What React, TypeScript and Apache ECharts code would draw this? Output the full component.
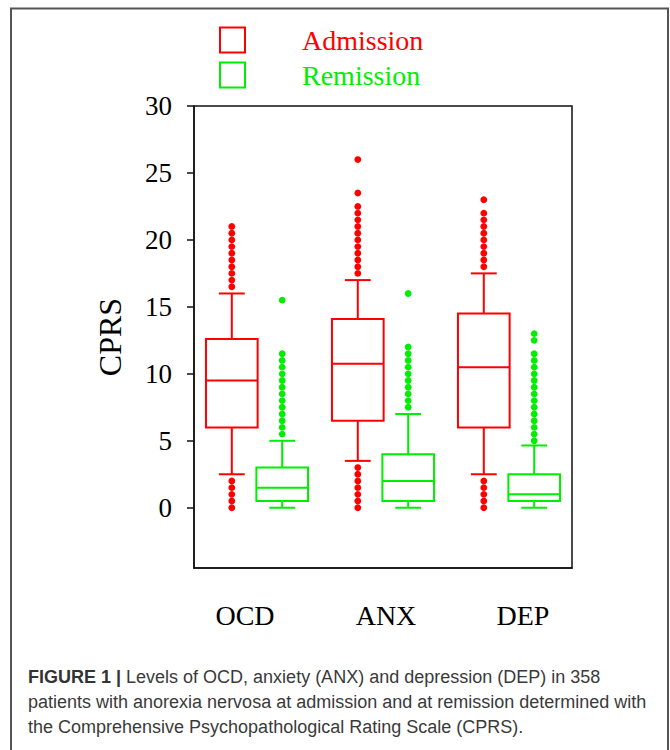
import React, { useEffect, useRef } from "react";
import * as echarts from "echarts";

const categories = ["OCD", "ANX", "DEP"];
const seriesNames = ["Admission", "Remission"];
const seriesColors = ["#ff0000", "#00ee00"];

// [min whisker, Q1, median, Q3, max whisker]
const admissionBoxes = [
  [2.5, 6, 9.5, 12.6, 16],
  [3.5, 6.5, 10.75, 14.1, 17],
  [2.5, 6, 10.5, 14.5, 17.5],
];
const remissionBoxes = [
  [0, 0.5, 1.5, 3, 5],
  [0, 0.5, 2, 4, 7],
  [0, 0.5, 1, 2.5, 4.65],
];

const admissionOutliers = [
  [0, 0.5, 1, 1.5, 2, 16.5, 17, 17.5, 18, 18.5, 19, 19.5, 20, 20.5, 21],
  [0, 0.5, 1, 1.5, 2, 2.5, 3, 17.5, 18, 18.5, 19, 19.5, 20, 20.5, 21, 21.5, 22, 22.5, 23.5, 26],
  [0, 0.5, 1, 1.5, 2, 18, 18.5, 19, 19.5, 20, 20.5, 21, 21.5, 22, 23],
];
const remissionOutliers = [
  [5.5, 6, 6.5, 7, 7.5, 8, 8.5, 9, 9.5, 10, 10.5, 11, 11.5, 15.5],
  [7.5, 8, 8.5, 9, 9.5, 10, 10.5, 11, 11.5, 12, 16],
  [5, 5.5, 6, 6.5, 7, 7.5, 8, 8.5, 9, 9.5, 10, 10.5, 11, 11.5, 12.5, 13],
];

const yTickValues = [0, 5, 10, 15, 20, 25, 30];
const yMin = -4.5;
const yMax = 30;

const captionBold = "FIGURE 1 |";
const captionLines = [
  " Levels of OCD, anxiety (ANX) and depression (DEP) in 358",
  "patients with anorexia nervosa at admission and at remission determined with",
  "the Comprehensive Psychopathological Rating Scale (CPRS).",
];

const SERIF = "'Liberation Serif', 'Times New Roman', serif";
const SANS = "'Liberation Sans', Arial, sans-serif";

function boxSeries(name: string, boxes: number[][], color: string, sign: number) {
  return {
    type: "custom",
    name,
    data: boxes.map((b, i) => [i, ...b]),
    encode: { x: 0, y: [1, 2, 3, 4, 5] },
    itemStyle: { color },
    renderItem: (params: any, api: any) => {
      const cat = api.value(0);
      const band = api.size([1, 0])[0];
      const w = band * 0.41;
      const cx = api.coord([cat, 0])[0] + sign * band * 0.2;
      const py = (v: number) => api.coord([cat, v])[1];
      const yMinW = py(api.value(1));
      const yQ1 = py(api.value(2));
      const yMed = py(api.value(3));
      const yQ3 = py(api.value(4));
      const yMaxW = py(api.value(5));
      const cap = w / 2;
      const ls = { stroke: color, lineWidth: 2, fill: "none" };
      return {
        type: "group",
        children: [
          { type: "line", shape: { x1: cx, y1: yQ1, x2: cx, y2: yMinW }, style: ls },
          { type: "line", shape: { x1: cx, y1: yQ3, x2: cx, y2: yMaxW }, style: ls },
          { type: "line", shape: { x1: cx - cap / 2, y1: yMinW, x2: cx + cap / 2, y2: yMinW }, style: ls },
          { type: "line", shape: { x1: cx - cap / 2, y1: yMaxW, x2: cx + cap / 2, y2: yMaxW }, style: ls },
          { type: "rect", shape: { x: cx - w / 2, y: yQ3, width: w, height: yQ1 - yQ3 }, style: ls },
          { type: "line", shape: { x1: cx - w / 2, y1: yMed, x2: cx + w / 2, y2: yMed }, style: ls },
        ],
      };
    },
  };
}

function outlierSeries(name: string, outliers: number[][], color: string, sign: number) {
  const data: number[][] = [];
  outliers.forEach((vals, i) => vals.forEach((v) => data.push([i, v])));
  return {
    type: "custom",
    name,
    data,
    encode: { x: 0, y: 1 },
    itemStyle: { color },
    renderItem: (params: any, api: any) => {
      const cat = api.value(0);
      const band = api.size([1, 0])[0];
      const p = api.coord([cat, api.value(1)]);
      return {
        type: "circle",
        shape: { cx: p[0] + sign * band * 0.2, cy: p[1], r: 3.4 },
        style: { fill: color, stroke: "none" },
      };
    },
  };
}

export default function App() {
  const ref = useRef<HTMLDivElement>(null);
  useEffect(() => {
    document.body.style.margin = "0";
    if (!ref.current) return;
    const chart = echarts.init(ref.current, null, { renderer: "svg" });
    const labelOffsets: Record<string, number[]> = {
      OCD: [0, 24, 0, 0],
      ANX: [0, 0, 0, 6],
      DEP: [0, 0, 0, 28],
    };
    const rich: Record<string, any> = {};
    categories.forEach((c) => {
      rich[c] = { fontFamily: SERIF, fontSize: 28, color: "#000", padding: labelOffsets[c] || [0, 0, 0, 0] };
    });
    chart.setOption({
      animation: false,
      backgroundColor: "#fff",
      grid: {
        left: 194,
        right: 98,
        top: 106,
        bottom: 182,
        show: true,
        borderColor: "#111",
        borderWidth: 1.5,
        backgroundColor: "transparent",
      },
      legend: {
        left: 219,
        top: 26,
        padding: 0,
        orient: "vertical",
        itemWidth: 25,
        itemHeight: 25,
        itemGap: 7,
        selectedMode: false,
        data: seriesNames.map((n, i) => ({
          name: n,
          icon: "rect",
          itemStyle: { color: "transparent", borderColor: seriesColors[i], borderWidth: 2 },
          textStyle: {
            color: seriesColors[i],
            fontFamily: SERIF,
            fontSize: 28,
            lineHeight: 25,
            padding: [0, 0, 0, 52],
          },
        })),
      },
      xAxis: {
        type: "category",
        data: categories,
        boundaryGap: true,
        axisLine: { onZero: false, lineStyle: { color: "#111", width: 1.5 } },
        axisTick: { alignWithLabel: true, length: 6, lineStyle: { color: "#111", width: 1.5 } },
        axisLabel: {
          interval: 0,
          margin: 33,
          fontFamily: SERIF,
          fontSize: 28,
          color: "#000",
          formatter: (v: string) => `{${v}|${v}}`,
          rich,
        },
        splitLine: { show: false },
      },
      yAxis: {
        type: "value",
        min: yMin,
        max: yMax,
        name: "CPRS",
        nameLocation: "middle",
        nameGap: 68,
        nameTextStyle: { fontFamily: SERIF, fontSize: 32, color: "#000" },
        axisLine: { show: true, lineStyle: { color: "#111", width: 1.5 } },
        axisTick: { show: true, length: 7, customValues: yTickValues, lineStyle: { color: "#111", width: 1.5 } },
        axisLabel: { margin: 22, fontFamily: SERIF, fontSize: 27, color: "#000", customValues: yTickValues },
        splitLine: { show: false },
      },
      graphic: [
        {
          type: "rect",
          shape: { x: 11, y: 8.5, width: 657, height: 800 },
          style: { fill: "none", stroke: "#555", lineWidth: 2 },
          silent: true,
        },
        {
          type: "text",
          x: 28,
          y: 677,
          style: {
            text: `{b|${captionBold}}{n|${captionLines[0]}}`,
            verticalAlign: "middle",
            rich: {
              b: { fontFamily: SANS, fontSize: 18, fontWeight: "bold", fill: "#333" },
              n: { fontFamily: SANS, fontSize: 18, fill: "#3a3a3a" },
            },
          },
        },
        {
          type: "text",
          x: 28,
          y: 702,
          style: { text: captionLines[1], fontFamily: SANS, fontSize: 18, fill: "#3a3a3a", verticalAlign: "middle" },
        },
        {
          type: "text",
          x: 28,
          y: 727,
          style: { text: captionLines[2], fontFamily: SANS, fontSize: 18, fill: "#3a3a3a", verticalAlign: "middle" },
        },
      ],
      series: [
        boxSeries(seriesNames[0], admissionBoxes, seriesColors[0], -1),
        boxSeries(seriesNames[1], remissionBoxes, seriesColors[1], 1),
        outlierSeries(seriesNames[0], admissionOutliers, seriesColors[0], -1),
        outlierSeries(seriesNames[1], remissionOutliers, seriesColors[1], 1),
      ],
    });
    return () => chart.dispose();
  }, []);
  return <div ref={ref} style={{ width: 670, height: 750 }} />;
}
